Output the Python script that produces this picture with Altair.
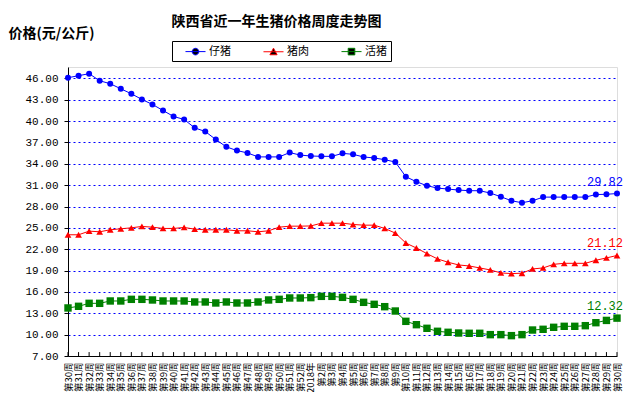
import altair as alt
import pandas as pd

series = ["仔猪", "猪肉", "活猪"]
colors = ["#0000FF", "#FF0000", "#008000"]

week_labels = [f"第{i}周" for i in range(30, 53)] + ["2018年"] + [f"第{i}周" for i in range(2, 31)]

piglet = [46.09, 46.38, 46.66, 45.67, 45.25, 44.54, 43.84, 43.04, 42.34, 41.49,
          40.65, 40.23, 39.05, 38.54, 37.41, 36.38, 35.86, 35.53, 34.97, 34.97,
          34.97, 35.58, 35.22, 35.10, 35.05, 35.05, 35.47, 35.33, 34.96, 34.82,
          34.58, 34.25, 32.19, 31.48, 30.92, 30.59, 30.45, 30.31, 30.22, 30.22,
          29.89, 29.37, 28.81, 28.53, 28.81, 29.32, 29.32, 29.32, 29.32, 29.32,
          29.68, 29.72, 29.82]

pork = [24.03, 24.03, 24.54, 24.45, 24.73, 24.87, 25.01, 25.20, 25.10, 24.92,
        24.92, 25.06, 24.82, 24.73, 24.73, 24.73, 24.59, 24.59, 24.45, 24.59,
        25.10, 25.24, 25.24, 25.27, 25.66, 25.66, 25.66, 25.48, 25.38, 25.38,
        24.92, 24.27, 22.87, 22.17, 21.38, 20.64, 20.17, 19.79, 19.65, 19.37,
        19.09, 18.67, 18.58, 18.63, 19.23, 19.37, 19.88, 20.02, 20.02, 20.02,
        20.45, 20.78, 21.12]

live_hog = [13.75, 13.98, 14.40, 14.40, 14.73, 14.73, 14.96, 14.96, 14.87, 14.73,
            14.73, 14.73, 14.59, 14.59, 14.45, 14.59, 14.45, 14.45, 14.59, 14.87,
            14.96, 15.15, 15.15, 15.20, 15.38, 15.38, 15.24, 14.96, 14.54, 14.26,
            13.93, 13.32, 11.87, 11.40, 10.89, 10.47, 10.33, 10.23, 10.19, 10.19,
            10.00, 10.00, 9.86, 10.00, 10.65, 10.75, 11.03, 11.17, 11.17, 11.26,
            11.68, 12.00, 12.32]

y_ticks = [7, 10, 13, 16, 19, 22, 25, 28, 31, 34, 37, 40, 43, 46]

rows = []
for name, vals in zip(series, [piglet, pork, live_hog]):
    for i, v in enumerate(vals):
        rows.append({"idx": i, "series": name, "value": v})
df = pd.DataFrame(rows)
ticks_df = pd.DataFrame({"idx": list(range(len(week_labels)))})

label_js = "[" + ",".join("'" + s + "'" for s in week_labels) + "]"

CJK = "Noto Sans CJK SC"
MONO = "Liberation Mono"

legend_paths = [
    "M-1.67,0H1.67M-0.55,0A0.55,0.55,0,1,1,0.55,0A0.55,0.55,0,1,1,-0.55,0Z",
    "M-1.67,0H1.67M0,-0.6L0.6,0.5L-0.6,0.5Z",
    "M-1.67,0H1.67M-0.55,-0.55H0.55V0.55H-0.55Z",
]

legend = alt.Legend(
    title=None, orient="none", legendX=104, legendY=-26, direction="horizontal",
    strokeColor="black", fillColor="white", padding=4,
    symbolSize=144, symbolOffset=13, labelOffset=7, symbolStrokeWidth=1,
    labelFont=CJK, labelFontSize=11, labelColor="black", columnPadding=23,
    labelExpr="datum.label + '  '",
)

x_axis = alt.Axis(labelExpr=label_js + "[datum.value]", labelAngle=270, labelAlign="right",
                  labelBaseline="middle", labelFont=CJK, labelFontSize=9.5, labelColor="black",
                  labelOverlap=False, ticks=False, labelPadding=6, domainColor="black",
                  grid=False, title=None)
y_axis = alt.Axis(values=y_ticks, format=".2f", labelFont=MONO, labelFontSize=11,
                  labelColor="black", tickSize=4, tickColor="black", domainColor="black",
                  labelPadding=6, labelOverlap=False, labelFlush=False, grid=True,
                  gridColor="#0000FF", gridDash=[2, 3],
                  title="价格(元/公斤)", titleAngle=0, titleX=-60, titleY=-34,
                  titleAlign="left", titleBaseline="middle", titleFont=CJK,
                  titleFontSize=14, titleFontWeight="bold", titleColor="black")
x_scale = alt.Scale(type="point", padding=0)
y_scale = alt.Scale(domain=[7, 47.6], nice=False, zero=False)

x = alt.X("idx:O", scale=x_scale, axis=x_axis)
y = alt.Y("value:Q", scale=y_scale, axis=y_axis)

cscale = alt.Scale(domain=series, range=colors)
color_nolegend = alt.Color("series:N", scale=cscale, legend=None)

base = alt.Chart(df).encode(x=x, y=y, color=color_nolegend)
lines = base.mark_line(strokeWidth=1)
points = base.mark_point(filled=True, opacity=1).encode(
    shape=alt.Shape("series:N", scale=alt.Scale(domain=series, range=["circle", "triangle-up", "square"]), legend=None),
    size=alt.Size("series:N", scale=alt.Scale(domain=series, range=[36, 55, 36]), legend=None),
)
end_labels = base.transform_filter(alt.datum.idx == len(week_labels) - 1).mark_text(
    align="right", baseline="middle", dx=6, dy=-12, font=MONO, fontSize=12
).encode(text=alt.Text("value:Q", format=".2f"))

inner_ticks = alt.Chart(ticks_df).mark_rule(color="black", strokeWidth=1).encode(
    x=x, y=alt.Y(datum=7, scale=y_scale, axis=y_axis), y2=alt.datum(7.55)
)

legend_layer = alt.Chart(df).transform_filter("false").mark_point(filled=False, opacity=1, strokeWidth=1).encode(
    x=x, y=y,
    color=alt.Color("series:N", scale=cscale, legend=legend),
    fill=alt.Fill("series:N", scale=cscale, legend=legend),
    shape=alt.Shape("series:N", scale=alt.Scale(domain=series, range=legend_paths), legend=legend),
)

chart = alt.layer(lines, points, end_labels, inner_ticks, legend_layer).resolve_scale(
    color="independent", shape="independent"
).properties(
    width=549, height=289,
    title=alt.TitleParams("陕西省近一年生猪价格周度走势图", font=CJK, fontSize=14, fontWeight="bold",
                          anchor="middle", frame="group", dx=-66, dy=3, offset=0, color="black"),
    autosize=alt.AutoSizeParams(type="none"),
    padding={"left": 60, "top": 59, "right": 7, "bottom": 36},
).configure_view(stroke=None).configure(background="white")

chart.save("out.html", embed_options={"renderer": "svg", "actions": False})
